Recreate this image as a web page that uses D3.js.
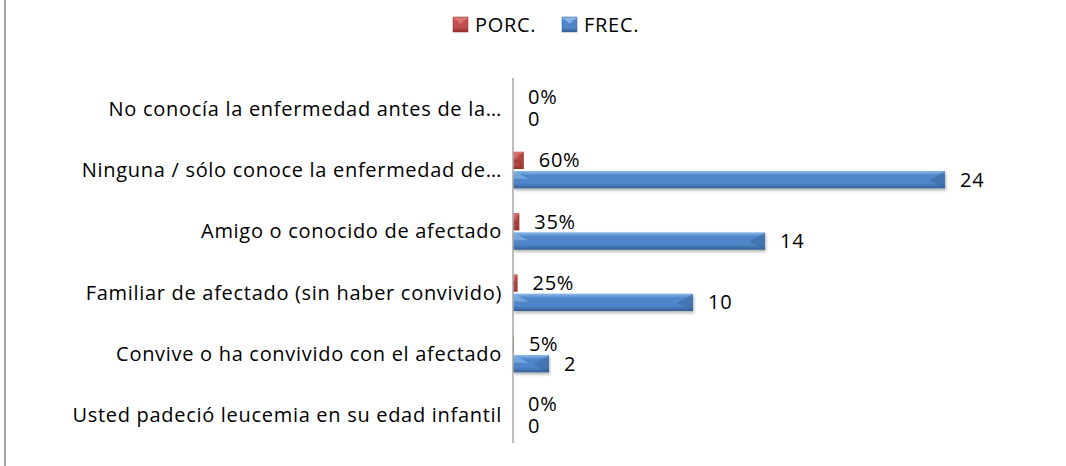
<!DOCTYPE html>
<html>
<head>
<meta charset="utf-8">
<script src="https://cdn.jsdelivr.net/npm/d3@7"></script>
<style>
  html, body { margin: 0; padding: 0; background: #fff; }
  svg { display: block; font-family: "Open Sans", Lato, sans-serif; }
</style>
</head>
<body>
<div id="chart"></div>
<script>
// Chart data (top to bottom as shown)
const categories = [
  'No conocía la enfermedad antes de la…',
  'Ninguna / sólo conoce la enfermedad de…',
  'Amigo o conocido de afectado',
  'Familiar de afectado (sin haber convivido)',
  'Convive o ha convivido con el afectado',
  'Usted padeció leucemia en su edad infantil'
];
const seriesNames = ['PORC.', 'FREC.'];
const porcValues = [0, 0.60, 0.35, 0.25, 0.05, 0];
const frecValues = [0, 24, 14, 10, 2, 0];

const SERIES_COLORS = {
  'PORC.': { light: '#e07a77', mid: '#c0504d', dark: '#8c2f2c' },
  'FREC.': { light: '#8fbaea', mid: '#4f86c9', dark: '#355f94' }
};

const width = 1066, height = 466;
const svg = d3.select('#chart').append('svg')
  .attr('width', width)
  .attr('height', height)
  .attr('letter-spacing', '0.7px');

const defs = svg.append('defs');
Object.entries(SERIES_COLORS).forEach(([name, c], i) => {
  const g = defs.append('linearGradient')
    .attr('id', `grad-${i}`)
    .attr('x1', 0).attr('y1', 0).attr('x2', 0).attr('y2', 1);
  g.append('stop').attr('offset', '0%').attr('stop-color', c.light);
  g.append('stop').attr('offset', '25%').attr('stop-color', c.mid);
  g.append('stop').attr('offset', '70%').attr('stop-color', c.mid);
  g.append('stop').attr('offset', '100%').attr('stop-color', c.dark);
});
const shadow = defs.append('filter').attr('id', 'shadow')
  .attr('x', '-5%').attr('y', '-20%').attr('width', '110%').attr('height', '160%');
shadow.append('feDropShadow')
  .attr('dx', 1).attr('dy', 2).attr('stdDeviation', 1.5)
  .attr('flood-color', '#000').attr('flood-opacity', 0.3);

// Outer frame (only the left edge is visible)
svg.append('line')
  .attr('x1', 5).attr('x2', 5).attr('y1', 0).attr('y2', height)
  .attr('stroke', '#a6a6a6').attr('stroke-width', 2);

// Scales
const x = d3.scaleLinear().domain([0, 24]).range([513, 945]);
const y = d3.scaleBand().domain(categories).range([78, 446]).paddingInner(0.4).paddingOuter(0.2);
const ySub = d3.scaleBand().domain(seriesNames).range([0, y.bandwidth()]).paddingInner(0.1);

// Category labels
svg.append('g')
  .selectAll('text')
  .data(categories)
  .enter()
  .append('text')
  .attr('x', 502)
  .attr('y', d => y(d) + y.bandwidth() / 2)
  .attr('dy', '0.35em')
  .attr('text-anchor', 'end')
  .attr('font-size', '20px')
  .attr('fill', '#000')
  .text(d => d);

// Bars
const rows = [];
categories.forEach((cat, i) => {
  rows.push({ cat, series: 'PORC.', si: 0, value: porcValues[i], label: Math.round(porcValues[i] * 100) + '%' });
  rows.push({ cat, series: 'FREC.', si: 1, value: frecValues[i], label: String(frecValues[i]) });
});

const bars = svg.append('g')
  .selectAll('g')
  .data(rows.filter(d => d.value > 0))
  .enter()
  .append('g')
  .attr('filter', d => d.si === 1 ? 'url(#shadow)' : null);

bars.append('rect')
  .attr('x', x(0))
  .attr('y', d => y(d.cat) + ySub(d.series))
  .attr('width', d => x(d.value) - x(0))
  .attr('height', ySub.bandwidth())
  .attr('fill', d => `url(#grad-${d.si})`);

// Bevel: light triangle at left end, dark at right end
bars.append('path')
  .attr('d', d => {
    const x0 = x(0), y0 = y(d.cat) + ySub(d.series), h = ySub.bandwidth();
    const w = Math.min(h * 0.9, x(d.value) - x0);
    return `M${x0},${y0}L${x0 + w},${y0 + h * 0.45}L${x0},${y0 + h * 0.45}Z`;
  })
  .attr('fill', d => SERIES_COLORS[d.series].light)
  .attr('opacity', 0.6);
bars.append('path')
  .attr('d', d => {
    const x1 = x(d.value), y0 = y(d.cat) + ySub(d.series), h = ySub.bandwidth();
    const w = Math.min(h * 0.9, x1 - x(0));
    return `M${x1},${y0}L${x1},${y0 + h}L${x1 - w},${y0 + h * 0.55}Z`;
  })
  .attr('fill', d => SERIES_COLORS[d.series].dark)
  .attr('opacity', 0.45);

// Data labels (zero labels nudged apart a little)
svg.append('g')
  .selectAll('text')
  .data(rows)
  .enter()
  .append('text')
  .attr('x', d => x(d.value) + 15)
  .attr('y', d => y(d.cat) + ySub(d.series) + ySub.bandwidth() / 2 + (d.value === 0 ? (d.si === 0 ? -2 : 1) : 0))
  .attr('dy', '0.35em')
  .attr('font-size', '20px')
  .attr('fill', '#000')
  .text(d => d.label);

// Vertical axis line
svg.append('line')
  .attr('x1', x(0)).attr('x2', x(0))
  .attr('y1', 78).attr('y2', 443)
  .attr('stroke', '#a6a6a6').attr('stroke-width', 1.5);

// Legend
const legendItems = [
  { name: 'PORC.', si: 0, x: 453 },
  { name: 'FREC.', si: 1, x: 562 }
];
const legend = svg.append('g')
  .selectAll('g')
  .data(legendItems)
  .enter()
  .append('g')
  .attr('transform', d => `translate(${d.x},17)`);
legend.append('rect')
  .attr('width', 15).attr('height', 15)
  .attr('fill', d => `url(#grad-${d.si})`)
  .attr('stroke', d => SERIES_COLORS[d.name].dark).attr('stroke-width', 0.5);
legend.append('path')
  .attr('d', 'M1,1L14,1L7.5,7Z')
  .attr('fill', d => SERIES_COLORS[d.name].light)
  .attr('opacity', 0.8);
legend.append('text')
  .attr('x', 22).attr('y', 8)
  .attr('dy', '0.35em')
  .attr('font-size', '20px')
  .attr('fill', '#000')
  .text(d => d.name);
</script>
</body>
</html>
